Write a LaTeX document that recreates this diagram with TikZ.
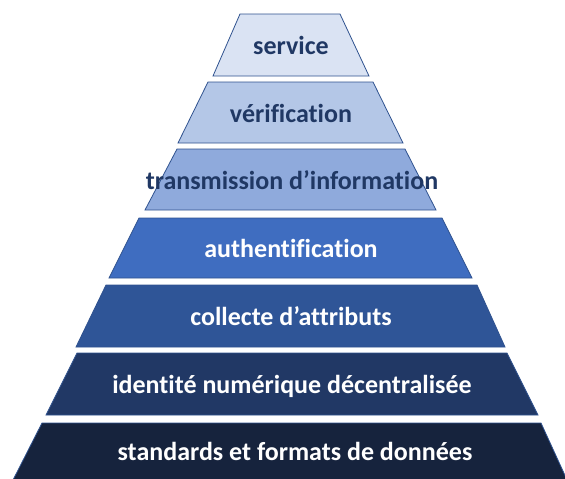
\documentclass[tikz,border=0pt]{standalone}
\usepackage{fontspec}
\setmainfont{Carlito}[Ligatures=NoCommon]

\definecolor{lvlone}{HTML}{DAE3F3}
\definecolor{lvltwo}{HTML}{B4C7E7}
\definecolor{lvlthree}{HTML}{8FAADC}
\definecolor{lvlfour}{HTML}{3F6DC0}
\definecolor{lvlfive}{HTML}{2F5597}
\definecolor{lvlsix}{HTML}{213865}
\definecolor{lvlseven}{HTML}{16233D}
\definecolor{pyrline}{HTML}{2F528F}
\definecolor{navytext}{HTML}{203864}

\tikzset{
  layer/.style={draw=pyrline, line width=0.8pt, line join=miter},
  lvltext/.style={anchor=base, inner sep=0pt, font=\fontsize{26}{30}\selectfont\bfseries},
  darktext/.style={lvltext, text=navytext},
  whitetext/.style={lvltext, text=white}
}

\begin{document}
\begin{tikzpicture}[x=1pt, y=-1pt]

\useasboundingbox (0,0) rectangle (565,479);

%%%%%%%%%%%%%%%%%%%%%%%%%%%%%%%%%%%%%%%%%%%%%%%%%%%%%%%%%%%%%%%%
% Top of the pyramid
%%%%%%%%%%%%%%%%%%%%%%%%%%%%%%%%%%%%%%%%%%%%%%%%%%%%%%%%%%%%%%%%

% service
\draw [layer, fill=lvlone] (240,14) -- (340,14) -- (369,76) -- (213,76) -- cycle;
    \node [darktext] (service) at (291,54.5) {service};

% verification
\draw [layer, fill=lvltwo] (208,82) -- (373,82) -- (403,143) -- (178,143) -- cycle;
    \node [darktext] (verif) at (291,122) {vérification};

% transmission
\draw [layer, fill=lvlthree] (177,149) -- (405,149) -- (436,210) -- (145,210) -- cycle;
    \node [darktext] (transm) at (292,189) {transmission d’information};

%%%%%%%%%%%%%%%%%%%%%%%%%%%%%%%%%%%%%%%%%%%%%%%%%%%%%%%%%%%%%%%%
% Middle
%%%%%%%%%%%%%%%%%%%%%%%%%%%%%%%%%%%%%%%%%%%%%%%%%%%%%%%%%%%%%%%%

% authentification
\draw [layer, fill=lvlfour] (139,218) -- (442,218) -- (472,278) -- (109,278) -- cycle;
    \node [whitetext] (authent) at (291,257.5) {authentification};

% collecte
\draw [layer, fill=lvlfive] (106,285) -- (477,285) -- (505,347) -- (76,347) -- cycle;
    \node [whitetext] (collecte) at (291,325.5) {collecte d’attributs};

%%%%%%%%%%%%%%%%%%%%%%%%%%%%%%%%%%%%%%%%%%%%%%%%%%%%%%%%%%%%%%%%
% Base
%%%%%%%%%%%%%%%%%%%%%%%%%%%%%%%%%%%%%%%%%%%%%%%%%%%%%%%%%%%%%%%%

% identite
\draw [layer, fill=lvlsix] (77,353) -- (507,353) -- (538,415) -- (46,415) -- cycle;
    \node [whitetext] (identite) at (292,393.5) {identité numérique décentralisée};

% standards
\draw [layer, fill=lvlseven] (42,423) -- (541,423) -- (568,482) -- (12,482) -- cycle;
    \node [whitetext] (standards) at (295,460.5) {standards et formats de données};

\end{tikzpicture}
\end{document}
